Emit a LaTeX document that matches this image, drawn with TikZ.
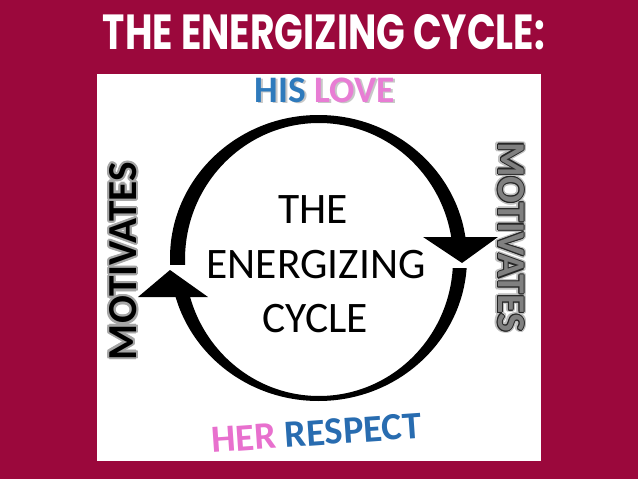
\documentclass[tikz,border=0pt]{standalone}
\usepackage{fontspec}
\setmainfont{Carlito}
\newfontfamily\titlefont{Poppins}
\definecolor{bgmaroon}{RGB}{155,8,60}
\definecolor{hisblue}{RGB}{46,122,188}
\definecolor{lovepink}{RGB}{232,125,212}
\definecolor{herpink}{RGB}{232,112,206}
\definecolor{respblue}{RGB}{40,108,176}
\newcommand\shadowed[2]{\makebox[0pt][l]{\kern1.4pt\raisebox{-1.4pt}{\textcolor{black!22}{#1}}}#2}
\tikzset{
  plain/.style={inner sep=0pt, outer sep=0pt},
  centertext/.style={plain, anchor=base, font=\fontsize{43.5}{43.5}\selectfont},
  colortext/.style={plain, font=\bfseries\fontsize{36}{36}\selectfont},
  motivl/.style={plain, rotate=90, font=\bfseries\fontsize{40}{40}\selectfont},
  motivr/.style={plain, rotate=-90, font=\bfseries\fontsize{39}{39}\selectfont},
}
\begin{document}
\begin{tikzpicture}[x=1pt,y=-1pt]
\useasboundingbox (0,0) rectangle (638,479);
\fill[bgmaroon] (0,0) rectangle (638,479);
\fill[white] (97,74) rectangle (541,461);

% title
\node[plain, anchor=base, text=white] (title) at (324,49)
  {\resizebox{442pt}{35pt}{\titlefont\bfseries THE ENERGIZING CYCLE:}};

% ring
\fill[black, even odd rule] (318.5,258) ellipse [x radius=148.5pt, y radius=143pt]
  (319,259.5) ellipse [x radius=134pt, y radius=136.5pt];
\fill[white] (160,265) rectangle (195,297);
\fill[white] (440,237) rectangle (476,268);
\fill[black] (138,297) -- (208,297) -- (170,270) -- cycle;
\fill[black] (423,237) -- (498,237) -- (462,263) -- cycle;

% centre text
\node[centertext] (the) at (313,223) {THE};
\node[centertext] (energ) at (316,278) {ENERGIZING};
\node[centertext] (cycle) at (315,332) {CYCLE};

% HIS LOVE
\node[colortext, anchor=base] (hislove) at (325,102)
  {\resizebox{140pt}{!}{\shadowed{HIS LOVE}{\textcolor{hisblue}{HIS} \textcolor{lovepink}{LOVE}}}};

% HER RESPECT
\node[colortext, rotate=4] (herrespect) at (316.5,433)
  {\resizebox{210pt}{!}{\textcolor{herpink}{HER} \textcolor{respblue}{RESPECT}}};

% MOTIVATES left
\foreach \a in {0,30,...,330}
  \node[motivl, text=black!35, shift={(\a:2.3pt)}] (mlh\a) at (123,261)
    {\resizebox{198pt}{!}{MOTIVATES}};
\node[motivl, text=black] (motivleft) at (123,261)
  {\resizebox{198pt}{!}{MOTIVATES}};

% MOTIVATES right
\foreach \a in {0,30,...,330}
  \node[motivr, text=black!25, shift={(\a:2.6pt)}] (mrh\a) at (511,237)
    {\resizebox{190pt}{!}{MOTIVATES}};
\foreach \a in {0,45,...,315}
  \node[motivr, text=black!85, shift={(\a:1.1pt)}] (mrd\a) at (511,237)
    {\resizebox{190pt}{!}{MOTIVATES}};
\node[motivr, text=black!50] (motivright) at (511,237)
  {\resizebox{190pt}{!}{MOTIVATES}};
\end{tikzpicture}
\end{document}
